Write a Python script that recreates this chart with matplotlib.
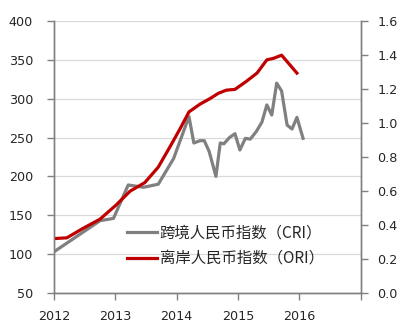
import numpy as np
import matplotlib
matplotlib.use("Agg")
import matplotlib.pyplot as plt

plt.rcParams['font.family'] = ['Noto Sans CJK SC', 'DejaVu Sans']

# index levels, x in fractional years
cri_t = [2012.00, 2012.75, 2012.97, 2013.21, 2013.46, 2013.70, 2013.95, 2014.20,
         2014.28, 2014.38, 2014.45, 2014.53, 2014.64, 2014.71, 2014.77, 2014.86,
         2014.95, 2015.03, 2015.12, 2015.20, 2015.30, 2015.39, 2015.47, 2015.55,
         2015.63, 2015.71, 2015.80, 2015.88, 2015.96, 2016.06]
cri_v = [103, 143, 146, 189, 186, 190, 223, 277,
         243, 246, 246, 232, 200, 243, 242, 250,
         255, 234, 249, 248, 258, 270, 292, 279,
         320, 310, 266, 261, 276, 249]

ori_t = [2012.00, 2012.21, 2012.47, 2012.75, 2013.01, 2013.24, 2013.48, 2013.70,
         2013.89, 2014.06, 2014.20, 2014.38, 2014.54, 2014.68, 2014.81, 2014.95,
         2015.13, 2015.31, 2015.47, 2015.58, 2015.71, 2015.96]
ori_v = [120, 121, 133, 145, 163, 181, 192, 212,
         238, 262, 283, 293, 300, 307, 311, 312,
         322, 333, 350, 352, 356, 333]

labels = ['跨境人民币指数（CRI）', '离岸人民币指数（ORI）']
years = [2012, 2013, 2014, 2015, 2016, 2017]

fig = plt.figure(figsize=(4.14, 3.25), dpi=100)
ax = fig.add_axes([0.1304, 0.0985, 0.7409, 0.8369])
ax2 = ax.twinx()

axis_col = '#808080'
txt_col = '#262626'

ax.plot(cri_t, cri_v, color='#808080', lw=2.3, label=labels[0], zorder=3)
ax.plot(ori_t, ori_v, color='#C00000', lw=2.3, label=labels[1], zorder=4)

ax.set_xlim(2012, 2017)
ax.set_ylim(50, 400)
ax.set_yticks(np.arange(50, 401, 50))
ax.set_xticks(years)
ax.set_xticklabels([str(y) for y in years[:-1]] + [''])
ax.yaxis.grid(True, color='#D9D9D9', lw=0.9)
ax.set_axisbelow(True)

ax2.set_ylim(0, 1.6)
ax2.set_yticks(np.arange(0, 1.61, 0.2))
ax2.set_yticklabels(['%.1f' % v for v in np.arange(0, 1.61, 0.2)])

for a in (ax, ax2):
    a.spines['top'].set_visible(False)
    for s in ('left', 'right', 'bottom'):
        a.spines[s].set_color(axis_col)
        a.spines[s].set_linewidth(1.0)
    a.tick_params(colors=axis_col, labelcolor=txt_col, length=5, width=1.0)
    for lab in a.get_xticklabels() + a.get_yticklabels():
        lab.set_fontfamily('DejaVu Sans')
        lab.set_fontsize(9.2)

ax.tick_params(axis='y', pad=10)
ax.tick_params(axis='x', pad=7)
ax2.tick_params(axis='y', pad=7)

leg = ax.legend(loc='center left', bbox_to_anchor=(0.306, 0.2437),
                bbox_transform=fig.transFigure, frameon=False,
                fontsize=11.1, handlelength=1.95, handletextpad=0.2,
                borderpad=0, borderaxespad=0, labelspacing=0.55)
for t in leg.get_texts():
    t.set_color(txt_col)

fig.savefig('out.png', dpi=100)
